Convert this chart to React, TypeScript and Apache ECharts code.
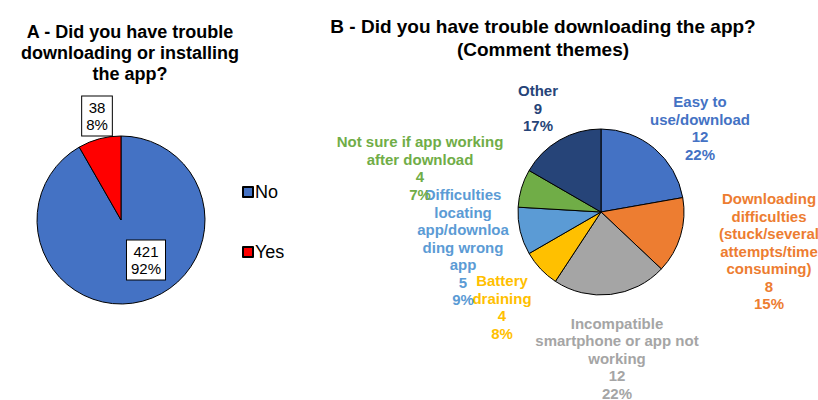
import React, { useEffect, useRef } from "react";
import * as echarts from "echarts";

const answerCategories = ["No", "Yes"];
const answerValues = [421, 38];
const answerPercents = [92, 8];

const themeCategories = [
  "Easy to\nuse/download",
  "Downloading\ndifficulties\n(stuck/several\nattempts/time\nconsuming)",
  "Incompatible\nsmartphone or app not\nworking",
  "Battery\ndraining",
  "Difficulties\nlocating\napp/downloa\nding wrong\napp",
  "Not sure if app working\nafter download",
  "Other",
];
const themeValues = [12, 8, 12, 4, 5, 4, 9];
const themePercents = [22, 15, 22, 8, 9, 7, 17];

const answerColors = ["#4472C4", "#FF0000"];
const themeColors = ["#4472C4", "#ED7D31", "#A5A5A5", "#FFC000", "#5B9BD5", "#70AD47", "#264478"];

// label anchor positions (layout only)
const answerLabelPos = [
  [146, 260],
  [97, 116],
];
const themeLabelPos = [
  [700, 128],
  [769, 251],
  [617, 358],
  [502, 307],
  [463, 247],
  [420, 168],
  [538, 108],
];

const FONT = "'Liberation Sans', Arial, sans-serif";

export default function App() {
  const ref = useRef<HTMLDivElement>(null);
  useEffect(() => {
    if (!ref.current) return;
    const chart = echarts.init(ref.current, null, { renderer: "svg" });
    chart.setOption({
      animation: false,
      backgroundColor: "#ffffff",
      textStyle: { fontFamily: FONT },
      title: [
        {
          text: "A - Did you have trouble\ndownloading or installing\nthe app?",
          left: 125,
          top: 16,
          textAlign: "center",
          textStyle: { fontFamily: FONT, fontSize: 18, fontWeight: "bold", color: "#000", lineHeight: 21 },
        },
        {
          text: "B - Did you have trouble downloading the app?\n(Comment themes)",
          left: 538,
          top: 10,
          textAlign: "center",
          textStyle: { fontFamily: FONT, fontSize: 19, fontWeight: "bold", color: "#000", lineHeight: 23 },
        },
      ],
      legend: {
        data: answerCategories,
        orient: "vertical",
        left: 237,
        top: 178,
        itemWidth: 10,
        itemHeight: 10,
        itemGap: 42,
        icon: "rect",
        textStyle: { fontFamily: FONT, fontSize: 18, lineHeight: 18, color: "#000", padding: [0, 0, 0, -3] },
      },
      series: [
        {
          type: "pie",
          center: [121, 220],
          radius: 84,
          startAngle: 90,
          clockwise: true,
          itemStyle: { borderColor: "#000", borderWidth: 1 },
          labelLine: { show: false },
          label: {
            show: true,
            position: "inside",
            formatter: (p: any) => `${p.value}\n${answerPercents[p.dataIndex]}%`,
            fontFamily: FONT,
            fontSize: 15,
            lineHeight: 17,
            color: "#000",
            backgroundColor: "#fff",
            borderColor: "#000",
            borderWidth: 1,
            padding: [3, 4, 2, 4],
          },
          labelLayout: (p: any) => ({
            x: answerLabelPos[p.dataIndex][0],
            y: answerLabelPos[p.dataIndex][1],
            align: "center",
            verticalAlign: "middle",
          }),
          emphasis: { disabled: true },
          data: answerCategories.map((name, i) => ({
            name,
            value: answerValues[i],
            itemStyle: { color: answerColors[i] },
          })),
        },
        {
          type: "pie",
          center: [601, 212],
          radius: 83,
          startAngle: 90,
          clockwise: true,
          itemStyle: { borderColor: "#000", borderWidth: 1 },
          labelLine: { show: false },
          label: {
            show: true,
            position: "inside",
            overflow: "none",
            formatter: (p: any) => `${p.name}\n${p.value}\n${themePercents[p.dataIndex]}%`,
            fontFamily: FONT,
            fontSize: 15,
            fontWeight: "bold",
            lineHeight: 17.5,
            align: "center",
          },
          labelLayout: (p: any) => ({
            x: themeLabelPos[p.dataIndex][0],
            y: themeLabelPos[p.dataIndex][1],
            align: "center",
            verticalAlign: "middle",
          }),
          emphasis: { disabled: true },
          data: themeCategories.map((name, i) => ({
            name,
            value: themeValues[i],
            itemStyle: { color: themeColors[i] },
            label: { color: themeColors[i] },
          })),
        },
      ],
    });
    return () => chart.dispose();
  }, []);
  return (
    <div
      ref={ref}
      style={{ position: "fixed", left: 0, top: 0, width: 818, height: 400 }}
    />
  );
}
